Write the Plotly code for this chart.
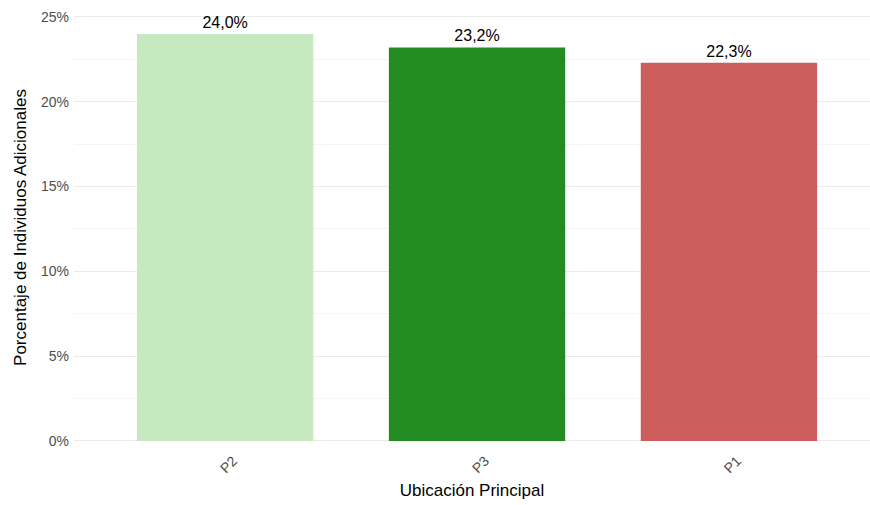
import plotly.graph_objects as go

# Share of additional individuals by main location
categorias = ["P2", "P3", "P1"]
porcentajes = [24.0, 23.2, 22.3]
colores = ["#c7e9c0", "#228b22", "#cd5c5c"]
etiquetas = [f"{v:.1f}%".replace(".", ",") for v in porcentajes]
ticks_y = [0, 5, 10, 15, 20, 25]
ticks_y_texto = [f"{t}%" for t in ticks_y]

fig = go.Figure(
    go.Bar(
        x=categorias,
        y=porcentajes,
        width=0.7,
        marker=dict(color=colores, line=dict(width=0)),
        text=etiquetas,
        textposition="outside",
        cliponaxis=False,
        textfont=dict(family="Liberation Sans, Arial, sans-serif", size=16, color="#000000"),
    )
)

fig.update_layout(
    width=870,
    height=505,
    margin=dict(l=74, r=0, t=12, b=62),
    paper_bgcolor="white",
    plot_bgcolor="white",
    font=dict(family="Liberation Sans, Arial, sans-serif"),
    showlegend=False,
    bargap=0.3,
)

fig.update_xaxes(
    range=[-0.6, 2.56],
    showgrid=False,
    zeroline=False,
    showline=False,
    ticks="",
    tickangle=-45,
    ticklabelshift=8,
    ticklabelstandoff=6,
    tickfont=dict(size=14, color="#4d4d4d"),
    title=dict(text="Ubicación Principal", font=dict(size=17, color="#000000"), standoff=8),
)

fig.update_yaxes(
    range=[-0.12, 25.29],
    tickvals=ticks_y,
    ticktext=ticks_y_texto,
    showgrid=True,
    gridcolor="#ebebeb",
    gridwidth=1,
    minor=dict(dtick=2.5, showgrid=True, gridcolor="#f4f4f4", gridwidth=1),
    zeroline=False,
    showline=False,
    ticks="",
    ticklabelstandoff=4,
    tickfont=dict(size=14, color="#4d4d4d"),
    title=dict(text="Porcentaje de Individuos Adicionales", font=dict(size=17, color="#000000"), standoff=10),
)

fig.write_html("out.html")
